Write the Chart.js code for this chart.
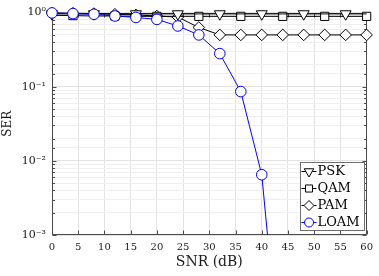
<!DOCTYPE html>
<html>
<head>
<meta charset="utf-8">
<script src="https://cdn.jsdelivr.net/npm/chart.js@4/dist/chart.umd.min.js"></script>
<style>
    html, body { margin: 0; padding: 0; background: #fff; }
    #wrap { width: 379px; height: 276px; }
</style>
</head>
<body>
<div id="wrap"><canvas id="serChart"></canvas></div>
<script>
// SNR values (dB) where the curves were computed
const snr = [0, 4, 8, 12, 16, 20, 24, 28, 32, 36, 40, 44, 48, 52, 56, 60];

// Symbol error rate per scheme
const psk = [0.96, 0.96, 0.96, 0.96, 0.96, 0.96, 0.96, 0.96, 0.96, 0.96, 0.96, 0.96, 0.96, 0.96, 0.96, 0.96];
const qam = [0.92, 0.91, 0.90, 0.90, 0.89, 0.89, 0.89, 0.89, 0.89, 0.89, 0.89, 0.89, 0.89, 0.89, 0.89, 0.89];
const pam = [0.99, 0.98, 0.97, 0.95, 0.93, 0.90, 0.87, 0.63, 0.50, 0.50, 0.50, 0.50, 0.50, 0.50, 0.50, 0.50];
const loam = [0.99, 0.97, 0.95, 0.90, 0.86, 0.81, 0.66, 0.50, 0.28, 0.086, 0.0065, 0.000007, null, null, null, null];

const seriesNames = ['PSK', 'QAM', 'PAM', 'LOAM'];

// Axis ticks
const xTickValues = [0, 5, 10, 15, 20, 25, 30, 35, 40, 45, 50, 55, 60];
const yDecades = [0.001, 0.01, 0.1, 1];
const yTickLabels = ['10\u207B\u00B3', '10\u207B\u00B2', '10\u207B\u00B9', '10\u2070'];

const FONT = '"DejaVu Serif", "Liberation Serif", serif';
const axisColor = '#4a4a4a';
const blue = '#0000ff';

function isDecade(v) {
    const l = Math.log10(v);
    return Math.abs(l - Math.round(l)) < 1e-9;
}

function toPoints(values) {
    return snr.map((x, i) => ({ x: x, y: values[i] }));
}

// Box around the plot + inward tick marks (MATLAB style)
const axesBoxPlugin = {
    id: 'axesBox',
    beforeDatasetsDraw(chart) {
        const { ctx, chartArea: a, scales } = chart;
        const l = Math.round(a.left) + 0.5;
        const r = Math.round(a.right) - 0.5;
        const t = Math.round(a.top) + 0.5;
        const b = Math.round(a.bottom) - 0.5;
        ctx.save();
        ctx.strokeStyle = axisColor;
        ctx.lineWidth = 1;
        ctx.beginPath();
        ctx.rect(l, t, r - l, b - t);
        scales.x.ticks.forEach(tk => {
            const px = Math.round(scales.x.getPixelForValue(tk.value)) + 0.5;
            ctx.moveTo(px, b); ctx.lineTo(px, b - 4);
            ctx.moveTo(px, t); ctx.lineTo(px, t + 4);
        });
        scales.y.ticks.forEach(tk => {
            const py = Math.round(scales.y.getPixelForValue(tk.value)) + 0.5;
            const len = isDecade(tk.value) ? 4 : 2.5;
            ctx.moveTo(l, py); ctx.lineTo(l + len, py);
            ctx.moveTo(r, py); ctx.lineTo(r - len, py);
        });
        ctx.stroke();
        ctx.restore();
    }
};

function drawMarker(ctx, style, x, y, r) {
    ctx.beginPath();
    if (style === 'triangleDown') {
        ctx.moveTo(x, y + r);
        ctx.lineTo(x - r * 0.866, y - r / 2);
        ctx.lineTo(x + r * 0.866, y - r / 2);
        ctx.closePath();
    } else if (style === 'rect') {
        const s = r * Math.SQRT1_2;
        ctx.rect(x - s, y - s, 2 * s, 2 * s);
    } else if (style === 'rectRot') {
        ctx.moveTo(x, y - r);
        ctx.lineTo(x + r, y);
        ctx.lineTo(x, y + r);
        ctx.lineTo(x - r, y);
        ctx.closePath();
    } else {
        ctx.arc(x, y, r, 0, Math.PI * 2);
    }
    ctx.fill();
    ctx.stroke();
}

// Boxed legend in the lower right corner of the plot
const boxLegendPlugin = {
    id: 'boxLegend',
    afterDraw(chart) {
        const { ctx, chartArea: a } = chart;
        const bw = 64, bh = 68;
        const bx = Math.round(a.right) - 3 - bw + 0.5;
        const by = Math.round(a.bottom) - 5 - bh + 0.5;
        const markers = ['triangleDown', 'rect', 'rectRot', 'circle'];
        const radii = [6.3, 5.8, 5.8, 5.3];
        ctx.save();
        ctx.fillStyle = '#fff';
        ctx.strokeStyle = '#6e6e6e';
        ctx.lineWidth = 1;
        ctx.fillRect(bx, by, bw, bh);
        ctx.strokeRect(bx, by, bw, bh);
        chart.data.datasets.forEach((ds, i) => {
            const cy = by + 9 + i * 17;
            ctx.strokeStyle = ds.borderColor;
            ctx.lineWidth = 1;
            ctx.beginPath();
            ctx.moveTo(bx + 1, cy);
            ctx.lineTo(bx + 16, cy);
            ctx.stroke();
            ctx.fillStyle = '#fff';
            drawMarker(ctx, markers[i], bx + 8.5, cy, radii[i] - 0.8);
            ctx.fillStyle = '#000';
            ctx.font = '13px ' + FONT;
            ctx.textBaseline = 'middle';
            ctx.textAlign = 'left';
            ctx.fillText(ds.label, bx + 17, cy + 0.5);
        });
        ctx.restore();
    }
};

const ctx = document.getElementById('serChart').getContext('2d');
const serChart = new Chart(ctx, {
    type: 'line',
    data: {
        datasets: [
            {
                label: seriesNames[0],
                data: toPoints(psk),
                borderColor: '#000',
                backgroundColor: '#fff',
                borderWidth: 1,
                pointStyle: 'triangle',
                pointRotation: 180,
                pointRadius: c => (c.dataIndex % 2 === 0 ? 6.3 : 0),
                pointBorderWidth: 1,
                clip: 12,
                order: 1
            },
            {
                label: seriesNames[1],
                data: toPoints(qam),
                borderColor: '#000',
                backgroundColor: '#fff',
                borderWidth: 1,
                pointStyle: 'rect',
                pointRadius: c => (c.dataIndex % 2 === 1 ? 5.8 : 0),
                pointBorderWidth: 1,
                clip: 12,
                order: 2
            },
            {
                label: seriesNames[2],
                data: toPoints(pam),
                borderColor: '#000',
                backgroundColor: '#fff',
                borderWidth: 1,
                pointStyle: 'rectRot',
                pointRadius: 5.8,
                pointBorderWidth: 1,
                clip: 12,
                order: 3
            },
            {
                label: seriesNames[3],
                data: toPoints(loam),
                borderColor: blue,
                backgroundColor: '#fff',
                borderWidth: 1,
                pointStyle: 'circle',
                pointRadius: 5.3,
                pointBorderWidth: 1,
                clip: { left: 12, top: 12, right: 12, bottom: 0 },
                order: 0
            }
        ]
    },
    options: {
        responsive: true,
        maintainAspectRatio: false,
        animation: false,
        events: [],
        layout: { padding: { left: 0, right: 7, top: 9, bottom: 0 } },
        plugins: {
            legend: { display: false },
            tooltip: { enabled: false }
        },
        scales: {
            x: {
                type: 'linear',
                min: 0,
                max: 60,
                afterFit: s => { s.height = 41; },
                afterBuildTicks: s => { s.ticks = xTickValues.map(v => ({ value: v })); },
                grid: { color: '#e3e3e3', drawTicks: false },
                border: { display: false },
                ticks: {
                    autoSkip: false,
                    maxRotation: 0,
                    padding: 6,
                    color: '#1a1a1a',
                    font: { family: FONT, size: 10 },
                    callback: v => String(v)
                },
                title: {
                    display: true,
                    text: 'SNR (dB)',
                    color: '#1a1a1a',
                    font: { family: FONT, size: 14 },
                    padding: { top: 0, bottom: 5 }
                }
            },
            y: {
                type: 'logarithmic',
                min: 0.001,
                max: 1,
                afterFit: s => { s.width = 52; },
                grid: {
                    color: c => (c.tick && isDecade(c.tick.value) ? '#e3e3e3' : '#efefef'),
                    drawTicks: false
                },
                border: { display: false },
                ticks: {
                    autoSkip: false,
                    padding: 6,
                    color: '#1a1a1a',
                    font: { family: FONT, size: 11 },
                    callback: v => {
                        const k = yDecades.findIndex(d => Math.abs(d - v) < d * 1e-6);
                        return k >= 0 ? yTickLabels[k] : '';
                    }
                },
                title: {
                    display: true,
                    text: 'SER',
                    color: '#1a1a1a',
                    font: { family: FONT, size: 12 },
                    padding: { top: 1, bottom: 0 }
                }
            }
        }
    },
    plugins: [axesBoxPlugin, boxLegendPlugin]
});
</script>
</body>
</html>
